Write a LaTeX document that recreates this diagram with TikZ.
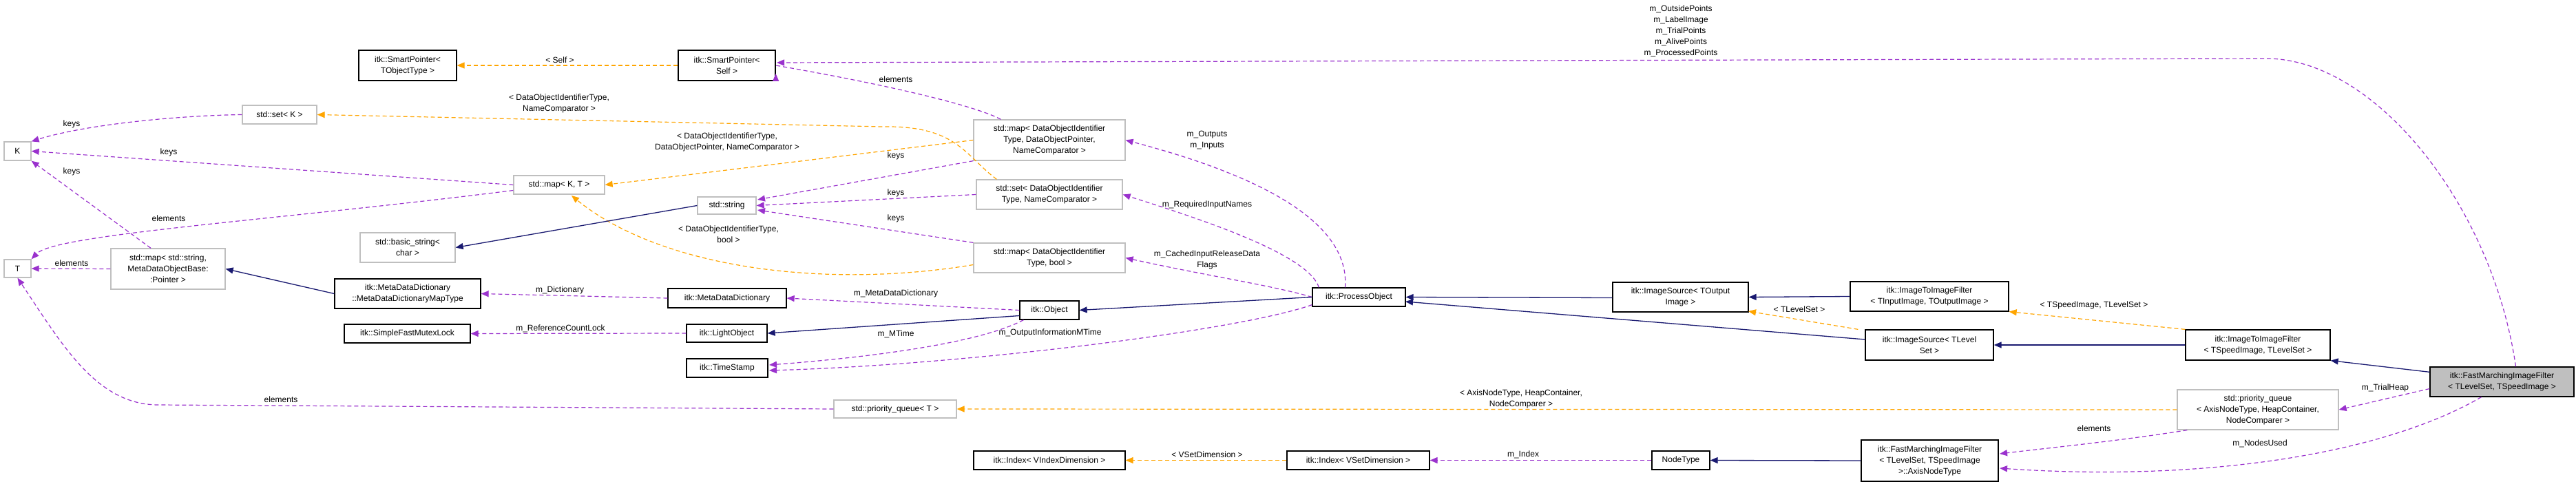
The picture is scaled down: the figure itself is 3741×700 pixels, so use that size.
\documentclass[tikz,border=0pt]{standalone}
\usepackage{fontspec}
\setmainfont{Liberation Sans}
\usetikzlibrary{arrows.meta}
\definecolor{pur}{HTML}{9A32CD}
\definecolor{ora}{HTML}{FFA500}
\definecolor{nav}{HTML}{191970}
\definecolor{gb}{HTML}{BFBFBF}
\newcommand\bx[7]{\node[#1,minimum width={#4pt-#2pt},minimum height={#5pt-#3pt}] (#6) at ({(#2+#4)/2},{(#3+#5)/2}) {#7};}
\begin{document}
\begin{tikzpicture}[x=1pt,y=-1pt,
  font=\fontsize{12}{16}\selectfont,
  box/.style={draw=black,line width=1.3pt,inner sep=0pt,align=center,fill=white},
  gbox/.style={draw=gb,line width=1.3pt,inner sep=0pt,align=center,fill=white},
  fbox/.style={draw=black,line width=1.3pt,inner sep=0pt,align=center,fill=gb},
  tip/.style={-{Triangle[length=11pt,width=9pt]}},
  use/.style={tip,draw=pur,line width=1.2pt,dash pattern=on 6pt off 4pt},
  tpl/.style={tip,draw=ora,line width=1.2pt,dash pattern=on 6pt off 4pt},
  inh/.style={tip,draw=nav,line width=1.3pt},
  lab/.style={align=center,inner sep=0pt}]
\useasboundingbox (0,0) rectangle (3741,700);
% nodes
\bx{box}{521}{73}{663}{117}{SPT}{itk::SmartPointer<\\ TObjectType >}
\bx{box}{985}{73}{1126}{117}{SPS}{itk::SmartPointer<\\ Self >}
\bx{gbox}{6}{206}{45}{233}{K}{K}
\bx{gbox}{6}{377}{45}{403}{T}{T}
\bx{gbox}{352}{153}{460}{180}{setK}{std::set< K >}
\bx{gbox}{746}{255}{878}{282}{mapKT}{std::map< K, T >}
\bx{gbox}{523}{338}{661}{381}{bstr}{std::basic\_string<\\ char >}
\bx{gbox}{161}{361}{327}{420}{mapS}{std::map< std::string,\\ MetaDataObjectBase:\\ :Pointer >}
\bx{box}{486}{405}{698}{448}{MDDMT}{itk::MetaDataDictionary\\ ::MetaDataDictionaryMapType}
\bx{box}{500}{471}{683}{498}{mutex}{itk::SimpleFastMutexLock}
\bx{gbox}{1414}{174}{1634}{233}{mapDOP}{std::map< DataObjectIdentifier\\ Type, DataObjectPointer,\\ NameComparator >}
\bx{gbox}{1418}{261}{1630}{304}{setDOI}{std::set< DataObjectIdentifier\\ Type, NameComparator >}
\bx{gbox}{1013}{286}{1098}{311}{str}{std::string}
\bx{gbox}{1414}{353}{1634}{396}{mapB}{std::map< DataObjectIdentifier\\ Type, bool >}
\bx{box}{970}{419}{1142}{447}{MDD}{itk::MetaDataDictionary}
\bx{box}{1481}{437}{1567}{464}{Obj}{itk::Object}
\bx{box}{997}{471}{1114}{497}{LO}{itk::LightObject}
\bx{box}{997}{521}{1115}{548}{TS}{itk::TimeStamp}
\bx{gbox}{1211}{581}{1389}{607}{pqT}{std::priority\_queue< T >}
\bx{box}{1414}{655}{1634}{682}{IdxV}{itk::Index< VIndexDimension >}
\bx{box}{1869}{655}{2076}{682}{IdxS}{itk::Index< VSetDimension >}
\bx{box}{1906}{418}{2041}{445}{PO}{itk::ProcessObject}
\bx{box}{2342}{410}{2539}{453}{ISO}{itk::ImageSource< TOutput\\ Image >}
\bx{box}{2687}{409}{2917}{452}{ITIO}{itk::ImageToImageFilter\\ < TInputImage, TOutputImage >}
\bx{box}{2709}{479}{2895}{523}{ISL}{itk::ImageSource< TLevel\\ Set >}
\bx{box}{3174}{479}{3384}{523}{ITSL}{itk::ImageToImageFilter\\ < TSpeedImage, TLevelSet >}
\bx{fbox}{3529}{533}{3738}{576}{FM}{itk::FastMarchingImageFilter\\ < TLevelSet, TSpeedImage >}
\bx{gbox}{3162}{566}{3396}{624}{pqA}{std::priority\_queue\\ < AxisNodeType, HeapContainer,\\ NodeComparer >}
\bx{box}{2703}{639}{2902}{699}{AN}{itk::FastMarchingImageFilter\\ < TLevelSet, TSpeedImage\\ >::AxisNodeType}
\bx{box}{2399}{655}{2483}{682}{NT}{NodeType}
% usage edges
\draw[use] (setK.west) .. controls (250,168) and (120,182) .. (K.north east);
\draw[use] (mapKT.west) -- (K.east);
\draw[use] (mapS.north) ++(-25,0) -- (K.south east);
\draw[use] (mapKT.west) ++(0,8) .. controls (400,320) and (80,340) .. (T.north east);
\draw[use] (mapS.west) -- (T.east);
\draw[use] (pqT.west) -- (230,588) .. controls (140,588) and (90,500) .. (T.south);
\draw[use] (MDD.west) -- (MDDMT.east);
\draw[use] (LO.west) -- (mutex.east);
\draw[use] (mapDOP.north west) ++(40,0) .. controls (1420,155) and (1300,125) .. (SPS.east) ++(0,12);
\draw[use] (FM.north) ++(20,0) .. controls (3620,300) and (3450,85) .. (3291,85) -- (1128,91);
\draw[use] (mapDOP.south west) -- (1100,290);
\draw[use] (setDOI.west) -- (str.east);
\draw[use] (mapB.north west) -- (1100,305);
\draw[use] (Obj.west) -- (MDD.east);
\draw[use] (Obj.south west) ++(6,0) .. controls (1420,500) and (1250,520) .. (1117,530);
\draw[use] (PO.south west) ++(0,-3) .. controls (1800,480) and (1400,530) .. (1117,538);
\draw[use] (PO.north) ++(-20,0) .. controls (1960,330) and (1850,260) .. (mapDOP.east);
\draw[use] (PO.north west) ++(10,0) .. controls (1900,370) and (1750,320) .. (setDOI.east);
\draw[use] (PO.west) .. controls (1850,415) and (1750,400) .. (mapB.east);
\draw[use] (NT.west) -- (IdxS.east);
\draw[use] (FM.west) ++(0,10) -- (pqA.east);
\draw[use] (pqA.south west) ++(15,0) .. controls (3080,640) and (2980,650) .. (2904,659);
\draw[use] (FM.south) ++(-30,0) .. controls (3460,660) and (3200,700) .. (2904,680);
% template edges
\draw[tpl] (SPS.west) -- (SPT.east);
\draw[tpl] (setDOI.north west) ++(30,0) .. controls (1400,225) and (1390,182) .. (1280,184) -- (setK.east);
\draw[tpl] (mapDOP.west) -- (mapKT.east);
\draw[tpl] (mapB.west) ++(0,10) .. controls (1200,420) and (960,390) .. (830,284);
\draw[tpl] (pqA.west) -- (pqT.east);
\draw[tpl] (ISL.north west) ++(-10,0) -- (2539,452);
\draw[tpl] (ITSL.north west) -- (ITIO.south east);
\draw[tpl] (IdxS.west) -- (IdxV.east);
% inheritance
\draw[inh] (str.west) -- (bstr.east);
\draw[inh] (MDDMT.west) -- (mapS.east);
\draw[inh] (Obj.west) ++(0,8) -- (LO.east);
\draw[inh] (PO.west) ++(0,0) -- (Obj.east);
\draw[inh] (ISO.west) ++(0,1) -- (PO.east);
\draw[inh] (ITIO.west) -- (ISO.east);
\draw[inh] (ISL.west) ++(0,-8) -- (2041,438);
\draw[inh] (ITSL.west) -- (ISL.east);
\draw[inh] (FM.north west) ++(0,8) -- (ITSL.south east);
\draw[inh] (AN.west) -- (NT.east);
% labels
\node[lab] at (104,180) {keys};
\node[lab] at (245,221) {keys};
\node[lab] at (104,249) {keys};
\node[lab] at (245,317) {elements};
\node[lab] at (104,382) {elements};
\node[lab] at (408,580) {elements};
\node[lab] at (813,87) {< Self >};
\node[lab] at (812,150) {< DataObjectIdentifierType,\\ NameComparator >};
\node[lab] at (813,421) {m\_Dictionary};
\node[lab] at (814,477) {m\_ReferenceCountLock};
\node[lab] at (1301,115) {elements};
\node[lab] at (1056,206) {< DataObjectIdentifierType,\\ DataObjectPointer, NameComparator >};
\node[lab] at (1301,226) {keys};
\node[lab] at (1301,280) {keys};
\node[lab] at (1301,317) {keys};
\node[lab] at (1058,340) {< DataObjectIdentifierType,\\ bool >};
\node[lab] at (1301,426) {m\_MetaDataDictionary};
\node[lab] at (1301,485) {m\_MTime};
\node[lab] at (1525,483) {m\_OutputInformationMTime};
\node[lab] at (1753,204) {m\_Outputs\\ m\_Inputs};
\node[lab] at (1753,297) {m\_RequiredInputNames};
\node[lab] at (1753,377) {m\_CachedInputReleaseData\\ Flags};
\node[lab] at (1753,660) {< VSetDimension >};
\node[lab] at (2441,45) {m\_OutsidePoints\\ m\_LabelImage\\ m\_TrialPoints\\ m\_AlivePoints\\ m\_ProcessedPoints};
\node[lab] at (2613,449) {< TLevelSet >};
\node[lab] at (3041,443) {< TSpeedImage, TLevelSet >};
\node[lab] at (2209,579) {< AxisNodeType, HeapContainer,\\ NodeComparer >};
\node[lab] at (3464,563) {m\_TrialHeap};
\node[lab] at (3041,622) {elements};
\node[lab] at (3282,644) {m\_NodesUsed};
\node[lab] at (2212,660) {m\_Index};
\end{tikzpicture}
\end{document}
